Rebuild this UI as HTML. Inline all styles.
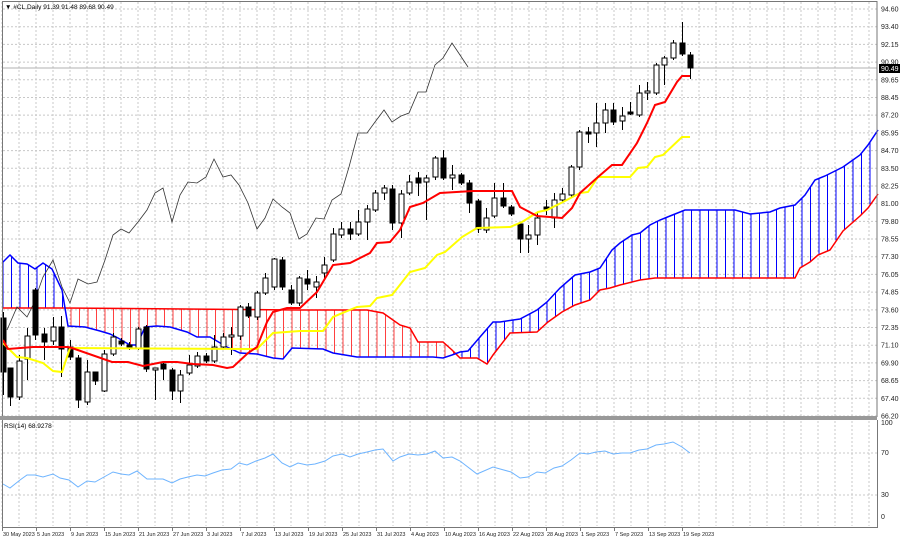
<!DOCTYPE html>
<html><head><meta charset="utf-8"><style>
html,body{margin:0;padding:0;background:#fff;}
svg{display:block;font-family:"Liberation Sans",sans-serif;}
</style></head><body>
<svg id="c" width="900" height="539" xmlns="http://www.w3.org/2000/svg"></svg>
<script>
const s=document.getElementById('c');let h='';
const P=a=>a.map(p=>p.join(',')).join(' ');
for(let k=0;k<24;k++){const y=9+k*(407/23);h+=`<line x1="3" y1="${y}" x2="877" y2="${y}" stroke="#c8c8c8" stroke-dasharray="2,2"/>`;}
for(let x=2;x<877;x+=17){h+=`<line x1="${x}" y1="2" x2="${x}" y2="416" stroke="#c8c8c8" stroke-dasharray="2,2"/><line x1="${x}" y1="421" x2="${x}" y2="526" stroke="#c8c8c8" stroke-dasharray="2,2"/>`;}
[453,495].forEach(y=>h+=`<line x1="3" y1="${y}" x2="877" y2="${y}" stroke="#c8c8c8" stroke-dasharray="2,2"/>`);
const A=[[3,262],[10,255],[18,263],[27,264],[35,269],[43,263],[52,269],[62,290],[68,326],[85,327],[100,331],[110,334],[118,338],[130,345],[137,345],[145,327],[157,326],[170,327],[187,332],[197,337],[210,337],[227,347],[240,353],[257,354],[273,358],[283,359],[292,348],[323,349],[333,353],[357,357],[433,357],[443,358],[452,355],[460,352],[468,351],[480,337],[493,322],[500,322],[520,319],[537,310],[547,302],[560,288],[575,275],[590,272],[600,268],[612,250],[620,243],[632,235],[640,233],[650,225],[660,220],[670,216],[685,210],[735,210],[750,214],[770,212],[780,208],[795,205],[805,195],[815,180],[825,176],[843,167],[860,155],[868,145],[878,130]];
const B=[[3,308],[63,308],[300,310],[367,310],[383,313],[400,325],[410,328],[418,342],[443,342],[452,350],[460,358],[477,358],[487,364],[493,355],[510,333],[537,332],[548,322],[562,312],[575,305],[590,300],[600,290],[610,288],[620,285],[640,280],[655,278],[795,278],[800,268],[810,262],[818,255],[830,250],[843,231],[860,216],[868,208],[878,194]];
const I=(a,x)=>{for(let i=1;i<a.length;i++){if(x<=a[i][0]){const[x0,y0]=a[i-1],[x1,y1]=a[i];return y0+(y1-y0)*(x-x0)/(x1-x0);}}return a[a.length-1][1];};
for(let x=3;x<=878;x+=8.5){const a=I(A,x),b=I(B,x);h+=`<line x1="${x}" y1="${a}" x2="${x}" y2="${b}" stroke="${a<b?'#0000ff':'#ff4040'}" stroke-width="1"/>`;}
h+=`<polyline points="${P(B)}" fill="none" stroke="#ff0000" stroke-width="1.5"/>`;
h+=`<polyline points="${P(A)}" fill="none" stroke="#0000ff" stroke-width="1.5"/>`;
const C=[[7,330],[17,307],[27,317],[33,305],[43,277],[53,260],[62,287],[70,303],[78,279],[88,284],[97,282],[105,260],[113,235],[121,229],[129,233],[138,222],[147,210],[155,193],[163,188],[172,222],[180,195],[188,182],[197,183],[206,177],[214,159],[223,177],[231,175],[239,185],[248,203],[257,229],[265,218],[273,199],[282,207],[290,213],[299,239],[307,234],[316,218],[324,219],[332,200],[341,194],[349,167],[358,133],[367,133],[375,122],[384,110],[392,122],[401,116],[409,113],[418,92],[426,92],[435,65],[443,58],[452,43],[460,55],[468,67]];
h+=`<polyline points="${P(C)}" fill="none" stroke="#333" stroke-width="0.8"/>`;
h+=`<line x1="3" y1="68" x2="877" y2="68" stroke="#b0b0b0" stroke-width="1"/>`;
const K=[[3,318,372,312,395,1],[10,368,397,368,406,1],[19,361,397,355,400,0],[27,336,359,328,380,0],[35,290,335,288,340,1],[44,334,342,328,360,1],[53,327,341,317,345,0],[61,327,349,316,377,1],[70,347,357,340,360,1],[78,358,400,355,408,1],[87,372,402,360,405,0],[95,372,381,372,385,1],[104,354,391,350,392,0],[113,337,354,333,356,0],[121,341,344,338,346,1],[129,345,348,342,350,1],[138,329,348,327,350,0],[146,327,369,325,372,1],[155,368,370,369,400,0],[163,364,369,362,380,1],[172,370,391,368,400,1],[180,375,391,370,403,0],[189,365,373,355,375,0],[197,356,366,352,368,0],[206,356,361,353,363,1],[214,347,361,335,363,0],[223,337,347,333,349,0],[231,335,337,327,355,0],[240,307,336,305,340,0],[248,307,316,303,318,1],[257,293,317,291,320,0],[265,278,293,273,295,0],[274,259,287,258,290,0],[282,260,287,257,290,1],[291,290,303,285,305,1],[299,278,303,276,306,0],[307,279,284,270,290,1],[316,282,287,276,298,0],[324,265,273,257,280,0],[333,234,260,228,262,0],[341,229,235,222,238,0],[350,229,234,222,240,1],[358,222,234,210,236,0],[367,209,222,205,240,0],[375,193,210,190,212,0],[384,188,193,185,200,0],[392,189,223,185,230,1],[401,194,223,190,238,0],[409,182,193,175,195,0],[418,178,183,172,196,1],[426,178,182,175,220,0],[435,158,177,156,180,0],[443,158,178,150,180,1],[452,175,178,165,190,0],[461,175,183,173,185,1],[469,183,203,180,213,1],[478,201,229,199,233,1],[486,218,230,208,233,0],[494,198,216,183,218,0],[503,198,206,183,208,1],[511,207,214,205,216,1],[520,224,239,222,253,1],[528,235,239,225,253,0],[537,218,235,212,245,0],[546,207,209,200,215,1],[554,200,218,193,228,0],[562,194,200,188,202,0],[571,167,195,165,197,0],[579,132,167,130,170,0],[588,132,134,127,143,1],[596,123,133,103,147,0],[605,110,123,103,133,0],[613,110,122,103,125,1],[622,116,121,107,130,0],[630,112,114,102,115,1],[639,93,115,85,117,0],[647,91,93,82,100,0],[656,65,93,63,95,0],[664,58,65,56,85,0],[673,43,58,40,60,0],[682,43,54,22,56,1],[690,55,68,52,79,1]];
K.forEach(([x,t,b,wt,wb,k])=>{h+=`<line x1="${x+.5}" y1="${wt}" x2="${x+.5}" y2="${wb}" stroke="#000"/>`;h+=`<rect x="${x-2}" y="${t}" width="5" height="${Math.max(1,b-t)}" fill="${k?'#000':'#fff'}" stroke="#000" stroke-width="1"/>`;});
const R=[[3,340],[8,349],[33,347],[68,347],[72,348],[112,362],[128,362],[143,366],[153,364],[163,362],[177,362],[193,364],[213,365],[227,368],[233,367],[248,353],[257,347],[267,322],[273,312],[287,308],[300,308],[317,292],[333,265],[350,263],[360,258],[370,253],[377,243],[390,242],[400,230],[410,207],[423,203],[440,193],[473,191],[512,191],[520,207],[537,216],[562,218],[572,208],[580,193],[598,177],[612,165],[622,165],[637,143],[647,123],[655,105],[665,102],[677,82],[682,76],[690,76]];
const Y=[[3,343],[17,357],[27,358],[43,363],[53,371],[62,372],[70,348],[247,349],[257,349],[273,333],[300,331],[323,331],[333,317],[357,307],[370,306],[377,298],[392,295],[410,272],[425,268],[437,255],[445,252],[462,237],[477,228],[510,227],[522,222],[538,212],[547,210],[563,202],[580,193],[588,192],[598,177],[630,177],[638,168],[647,167],[655,157],[663,155],[682,137],[690,137]];
h+=`<polyline points="${P(Y)}" fill="none" stroke="#ffff00" stroke-width="2"/>`;
h+=`<polyline points="${P(R)}" fill="none" stroke="#ff0000" stroke-width="2"/>`;
const S=[[3,484],[10,488],[20,480],[27,475],[35,475],[43,477],[53,474],[60,478],[69,480],[78,487],[87,481],[95,482],[104,477],[113,472],[121,474],[129,475],[137,471],[147,479],[155,479],[163,479],[172,483],[180,479],[188,477],[197,475],[205,476],[213,473],[222,470],[231,469],[239,463],[247,465],[256,461],[265,458],[273,454],[282,463],[290,467],[298,463],[307,465],[315,464],[325,461],[333,456],[342,454],[350,457],[358,454],[367,452],[375,450],[383,449],[393,461],[400,457],[409,454],[418,455],[427,454],[435,451],[443,458],[452,457],[460,461],[477,474],[493,467],[511,472],[520,478],[528,477],[537,472],[545,473],[554,468],[562,466],[571,460],[580,453],[588,454],[596,452],[605,451],[613,454],[622,453],[630,453],[639,450],[647,449],[656,445],[664,444],[673,442],[682,447],[690,453]];
h+=`<polyline points="${P(S)}" fill="none" stroke="#6eb4ff" stroke-width="1"/>`;
h+=`<rect x="2.5" y="1.5" width="874.5" height="415" fill="none" stroke="#777" stroke-width="1"/>`;
h+=`<rect x="0" y="416" width="877" height="4" fill="#999"/>`;
h+=`<line x1="2.5" y1="420" x2="2.5" y2="527" stroke="#777"/><line x1="877.5" y1="420" x2="877.5" y2="527" stroke="#777"/><line x1="2" y1="527.5" x2="878" y2="527.5" stroke="#777"/>`;
const L=["94.60","93.40","92.15","90.90","89.65","88.45","87.20","85.95","84.70","83.50","82.25","81.00","79.80","78.55","77.30","76.05","74.85","73.60","72.35","71.10","69.90","68.65","67.40","66.20"];
L.forEach((t,i)=>{const y=9+i*(407/23);h+=`<text x="881" y="${y+2.5}" font-size="7" fill="#222">${t}</text>`;});
h+=`<rect x="879" y="64" width="21" height="9" fill="#000"/><text x="881" y="71" font-size="7" fill="#fff">90.49</text>`;
[["100",425],["70",455],["30",497],["0",519]].forEach(([t,y])=>h+=`<text x="881" y="${y}" font-size="7" fill="#222">${t}</text>`);
const D=["30 May 2023","5 Jun 2023","9 Jun 2023","15 Jun 2023","21 Jun 2023","27 Jun 2023","3 Jul 2023","7 Jul 2023","13 Jul 2023","19 Jul 2023","25 Jul 2023","31 Jul 2023","4 Aug 2023","10 Aug 2023","16 Aug 2023","22 Aug 2023","28 Aug 2023","1 Sep 2023","7 Sep 2023","13 Sep 2023","19 Sep 2023"];
D.forEach((t,i)=>{const x=2+i*34;h+=`<line x1="${x+.5}" y1="527" x2="${x+.5}" y2="531" stroke="#777"/><text x="${x+1}" y="536" font-size="5.5" fill="#222">${t}</text>`;});
h+=`<text x="5" y="9" font-size="6.5" fill="#000">▼ #CL,Daily  91.39 91.48 89.68 90.49</text>`;
h+=`<text x="4" y="428" font-size="6.5" fill="#000">RSI(14) 68.9278</text>`;
s.innerHTML=h;
</script>
</body></html>
